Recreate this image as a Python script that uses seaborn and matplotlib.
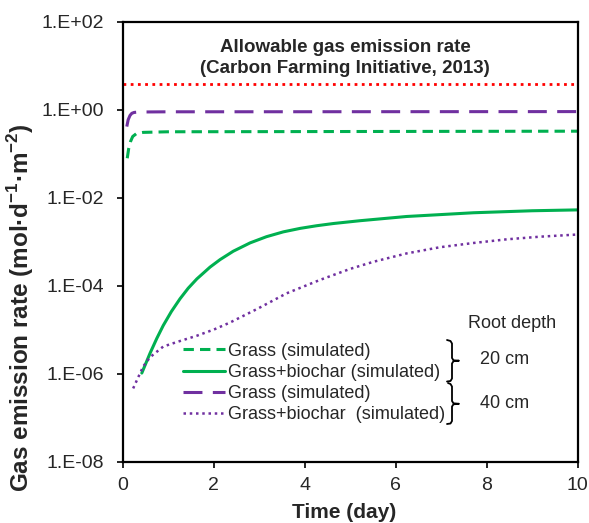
import numpy as np
import pandas as pd
import matplotlib
matplotlib.use("Agg")
import matplotlib.pyplot as plt
import matplotlib.ticker as ticker
from matplotlib.lines import Line2D
import seaborn as sns

# values (time in days, rate in mol/d/m2)
grass20_t = [0.10, 0.13, 0.17, 0.22, 0.30, 0.45, 1.0, 10.0]
grass20 = [0.08, 0.13, 0.19, 0.25, 0.29, 0.31, 0.32, 0.33]

biochar20_t = [0.42, 0.60, 0.75, 0.89, 1.07, 1.26, 1.44, 1.63, 1.92, 2.14,
               2.43, 2.80, 3.16, 3.53, 3.90, 4.26, 4.63, 5.22, 6.24, 7.71,
               9.00, 10.0]
biochar20 = [1.05e-6, 2.95e-6, 6.46e-6, 1.26e-5, 2.63e-5, 5.13e-5, 8.91e-5,
             1.45e-4, 2.69e-4, 3.98e-4, 6.17e-4, 9.55e-4, 1.32e-3, 1.70e-3,
             2.04e-3, 2.34e-3, 2.63e-3, 3.05e-3, 3.80e-3, 4.62e-3, 5.13e-3,
             5.37e-3]

grass40_t = [0.09, 0.12, 0.16, 0.20, 0.25, 0.35, 1.0, 10.0]
grass40 = [0.42, 0.60, 0.75, 0.84, 0.88, 0.90, 0.91, 0.92]

biochar40_t = [0.23, 0.30, 0.45, 0.60, 0.89, 1.20, 1.63, 2.00, 2.36, 2.98,
               3.60, 4.34, 5.00, 5.51, 6.24, 6.97, 7.71, 8.44, 9.17, 10.0]
biochar40 = [4.7e-7, 6.8e-7, 1.48e-6, 2.4e-6, 4.2e-6, 5.37e-6, 7.41e-6,
             1.02e-5, 1.48e-5, 3.1e-5, 6.8e-5, 1.38e-4, 2.45e-4, 3.55e-4,
             5.5e-4, 7.6e-4, 9.5e-4, 1.15e-3, 1.32e-3, 1.48e-3]

allow_t = [0.0, 10.0]
allow = [4.0, 4.0]

labels = ["Grass (simulated)", "Grass+biochar (simulated)",
          "Grass (simulated)", "Grass+biochar  (simulated)"]
yticks = [1e-8, 1e-6, 1e-4, 1e-2, 1e0, 1e2]

GREEN = "#00B050"
PURPLE = "#7030A0"

sns.set_style("white")
plt.rcParams["font.family"] = ["Liberation Sans", "DejaVu Sans"]
plt.rcParams["mathtext.fontset"] = "custom"
plt.rcParams["mathtext.rm"] = "Liberation Sans"
plt.rcParams["mathtext.bf"] = "Liberation Sans:bold"

W, H = 589, 523
fig = plt.figure(figsize=(W / 100, H / 100), dpi=100)
ax = fig.add_axes([122.7 / W, 1 - 462 / H, 455 / W, 440 / H])

sns.lineplot(x=allow_t, y=allow, ax=ax, color="#FF0000", lw=2,
             linestyle=(0, (1, 1.6)))
l1 = sns.lineplot(x=grass20_t, y=grass20, ax=ax, color=GREEN, lw=2.2,
                  linestyle=(0, (3.4, 2.0))).lines[-1]
l2 = sns.lineplot(x=biochar20_t, y=biochar20, ax=ax, color=GREEN, lw=2.2).lines[-1]
l3 = sns.lineplot(x=grass40_t, y=grass40, ax=ax, color=PURPLE, lw=2.2,
                  linestyle=(0, (6.2, 3.4))).lines[-1]
l4 = sns.lineplot(x=biochar40_t, y=biochar40, ax=ax, color=PURPLE, lw=1.8,
                  linestyle=(0, (1, 1.5))).lines[-1]

ax.set_yscale("log")
ax.set_xlim(0, 10)
ax.set_ylim(1e-8, 1e2)
ax.yaxis.set_major_locator(ticker.FixedLocator(yticks))
ax.yaxis.set_minor_locator(ticker.NullLocator())
ax.yaxis.set_major_formatter(ticker.FuncFormatter(
    lambda v, p: f"1.E{int(round(np.log10(v))):+03d}"))
ax.set_xticks([0, 2, 4, 6, 8, 10])

for s in ax.spines.values():
    s.set_linewidth(1.6)
    s.set_color("black")
ax.tick_params(axis="both", which="major", direction="out", length=4.5,
               width=1.2, color="black", labelsize=14,
               left=True, bottom=True)
ax.tick_params(axis="y", pad=9)
ax.tick_params(axis="x", pad=6)

ax.set_xlabel("Time (day)", fontsize=15, fontweight="bold")
ax.xaxis.set_label_coords(0.486, -0.093)
ax.set_ylabel(r"Gas emission rate (mol·d$^{\mathbf{-1}}$·m$^{\mathbf{-2}}$)",
              fontsize=17.5, fontweight="bold")
ax.yaxis.set_label_coords(-0.19, 0.352)

ax.text(0.489, 0.943, "Allowable gas emission rate", transform=ax.transAxes,
        ha="center", va="center", fontsize=13.5, fontweight="bold")
ax.text(0.489, 0.894, "(Carbon Farming Initiative, 2013)", transform=ax.transAxes,
        ha="center", va="center", fontsize=13.5, fontweight="bold")

ax.legend([l1, l2, l3, l4], labels, loc="upper left",
          bbox_to_anchor=(0.1325, 0.271), frameon=False, fontsize=13,
          handlelength=2.33, handletextpad=0.17, labelspacing=0.23,
          borderpad=0, borderaxespad=0)

# root depth notes and braces (figure pixel positions)
def fx(x):
    return x / W

def fy(y):
    return 1 - y / H

fig.text(fx(512), fy(323), "Root depth", ha="center", va="center", fontsize=13)
fig.text(fx(505), fy(359), "20 cm", ha="center", va="center", fontsize=13)
fig.text(fx(505), fy(403), "40 cm", ha="center", va="center", fontsize=13)

braces = [
    [(447, 340), (450.5, 341), (452, 343.5), (452, 358), (453.5, 360.3),
     (459, 360.7), (453.5, 361.2), (452, 363.5), (452, 378.5), (450.5, 381),
     (447, 381.5)],
    [(448, 383), (450.5, 384), (452, 386.5), (452, 401), (453.5, 403.3),
     (459, 403.8), (453.5, 404.3), (452, 406.5), (452, 421), (450.5, 423.5),
     (447, 424)],
]
for b in braces:
    xs = [fx(p[0]) for p in b]
    ys = [fy(p[1]) for p in b]
    fig.add_artist(Line2D(xs, ys, transform=fig.transFigure, color="black",
                          lw=1.3, solid_joinstyle="round"))

fig.savefig("out.png", dpi=100)
